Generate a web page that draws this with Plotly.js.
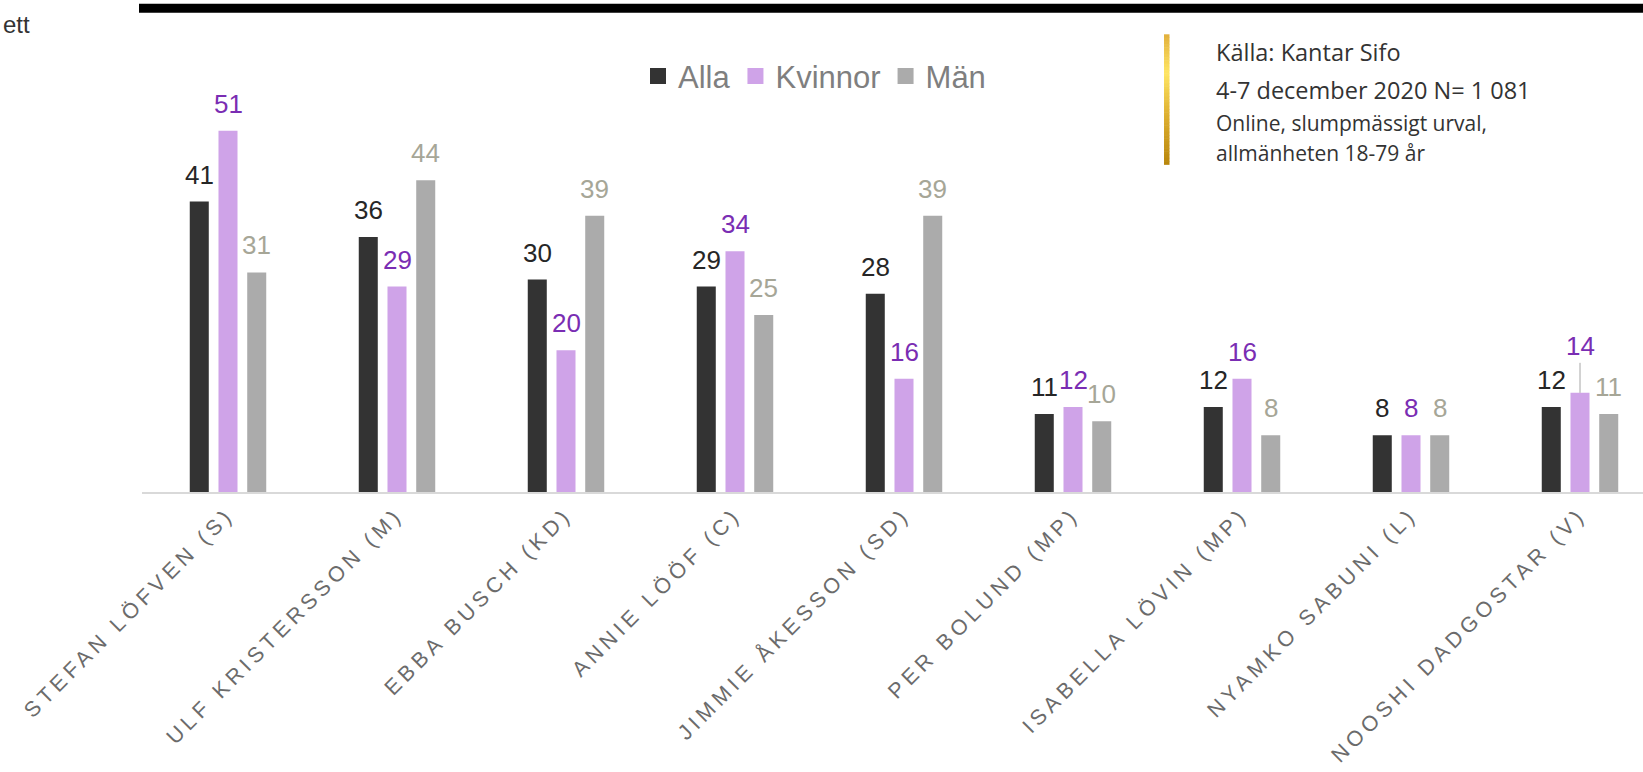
<!DOCTYPE html>
<html>
<head>
<meta charset="utf-8">
<script src="https://cdn.plot.ly/plotly-3.0.1.min.js"></script>
<style>
  html, body { margin: 0; padding: 0; background: #ffffff; overflow: hidden; }
  #chart { width: 1643px; height: 772px; }
  #chart .xtick text { letter-spacing: 4.5px; }
</style>
</head>
<body>
<div id="chart"></div>
<script>
// ---- data ----
const categories = ['STEFAN LÖFVEN (S)', 'ULF KRISTERSSON (M)', 'EBBA BUSCH (KD)', 'ANNIE LÖÖF (C)',
  'JIMMIE ÅKESSON (SD)', 'PER BOLUND (MP)', 'ISABELLA LÖVIN (MP)', 'NYAMKO SABUNI (L)', 'NOOSHI DADGOSTAR (V)'];
const seriesNames = ['Alla', 'Kvinnor', 'Män'];
const alla    = [41, 36, 30, 29, 28, 11, 12, 8, 12];
const kvinnor = [51, 29, 20, 34, 16, 12, 16, 8, 14];
const man     = [31, 44, 39, 25, 39, 10,  8, 8, 11];
const sourceLines = ['Källa: Kantar Sifo', '4-7 december 2020 N= 1 081',
  'Online, slumpmässigt urval,', 'allmänheten 18-79 år'];
const cornerText = 'ett';

// ---- style ----
const barColors   = ['#333333', '#CFA3E8', '#ABABAB'];
const labelColors = ['#262626', '#7A2DB3', '#A6A697'];
const FONT = 'Arial, "Liberation Sans", sans-serif';
const SRC_FONT = '"Open Sans", "Noto Sans", sans-serif';

// plot-area geometry (pixels)
const L = 142, T = 66.7, W = 1643 - 142, H = 424.8;
const px = x => (x - L) / W;
const py = y => (T + H - y) / H;

const bargap = 0.49, bargroupgap = 0.338;
const slot = (1 - bargap) / 3;
const xStart = -(228 - L) / 169;
const xEnd = xStart + W / 169;

const values = [alla, kvinnor, man];
const traces = values.map((v, s) => ({
  type: 'bar', name: seriesNames[s], x: categories, y: v,
  marker: { color: barColors[s], line: { width: 0 } },
  hoverinfo: 'skip'
}));

const annotations = [];
values.forEach((v, s) => {
  v.forEach((val, i) => {
    const callout = (categories[i] === 'NOOSHI DADGOSTAR (V)' && s === 1);
    const a = {
      xref: 'x', yref: 'y', x: i + (s - 1) * slot, y: val,
      text: String(val), xanchor: 'center', yanchor: 'bottom',
      font: { family: FONT, size: 26, color: labelColors[s] },
      showarrow: false, yshift: 10
    };
    if (callout) {
      Object.assign(a, { showarrow: true, ax: 0, ay: -30, arrowhead: 0, arrowwidth: 1,
        arrowcolor: '#A6A6A6', standoff: 0, yshift: 0 });
    }
    annotations.push(a);
  });
});

// source text
const srcCenter = [52, 90, 123, 153];
const srcSize = [23.5, 23.5, 21, 21];
sourceLines.forEach((t, k) => {
  annotations.push({
    xref: 'paper', yref: 'paper', x: px(1214), y: py(srcCenter[k]),
    xanchor: 'left', yanchor: 'middle', text: t, showarrow: false,
    font: { family: SRC_FONT, size: srcSize[k], color: '#333333' }
  });
});
// corner text
annotations.push({
  xref: 'paper', yref: 'paper', x: px(1), y: py(24), xanchor: 'left', yanchor: 'middle',
  text: cornerText, showarrow: false, font: { family: FONT, size: 24, color: '#333333' }
});

// shapes: top black rule + gold gradient bar
const shapes = [{
  type: 'rect', xref: 'paper', yref: 'paper', x0: px(139), x1: px(1660), y0: py(12.5), y1: py(3.5),
  fillcolor: '#000000', line: { width: 0 }, layer: 'above'
}];
const goldStops = [[0, [226, 176, 60]], [0.3, [255, 230, 100]], [0.6, [224, 178, 50]], [1, [184, 134, 11]]];
const gTop = 34, gBot = 164, nSeg = 40;
for (let k = 0; k < nSeg; k++) {
  const f = (k + 0.5) / nSeg;
  let j = 0; while (j < goldStops.length - 2 && f > goldStops[j + 1][0]) j++;
  const [f0, c0] = goldStops[j], [f1, c1] = goldStops[j + 1];
  const u = (f - f0) / (f1 - f0);
  const c = c0.map((q, m) => Math.round(q + (c1[m] - q) * u));
  const y0 = gTop + (gBot - gTop) * k / nSeg, y1 = gTop + (gBot - gTop) * (k + 1) / nSeg + 0.5;
  shapes.push({ type: 'rect', xref: 'paper', yref: 'paper', x0: px(1164), x1: px(1169.5),
    y0: py(y1), y1: py(y0), fillcolor: `rgb(${c.join(',')})`, line: { width: 0 } });
}

const layout = {
  width: 1643, height: 772,
  margin: { l: L, r: 0, t: T, b: 772 - T - H, pad: 0 },
  paper_bgcolor: '#ffffff', plot_bgcolor: '#ffffff',
  barmode: 'group', bargap: bargap, bargroupgap: bargroupgap,
  font: { family: FONT },
  showlegend: true,
  legend: {
    orientation: 'h', x: px(638), xanchor: 'left', y: py(76), yanchor: 'middle',
    font: { family: FONT, size: 31, color: '#7F7F7F' }, bgcolor: 'rgba(0,0,0,0)'
  },
  xaxis: {
    type: 'category', range: [xStart, xEnd], showgrid: false, zeroline: false,
    showline: true, linecolor: '#D9D9D9', linewidth: 1.5, ticks: '',
    tickangle: -45, tickfont: { family: FONT, size: 21.5, color: '#6B6B6B' },
    fixedrange: true
  },
  yaxis: { range: [0, H / 7.08], visible: false, showgrid: false, zeroline: false, fixedrange: true },
  annotations: annotations,
  shapes: shapes
};

Plotly.newPlot('chart', traces, layout, { displayModeBar: false, staticPlot: true }).then(gd => {
  gd.querySelectorAll('.legend .legendpoints path').forEach(p => p.setAttribute('d', 'M8,8H-8V-8H8Z'));
});
</script>
</body>
</html>
